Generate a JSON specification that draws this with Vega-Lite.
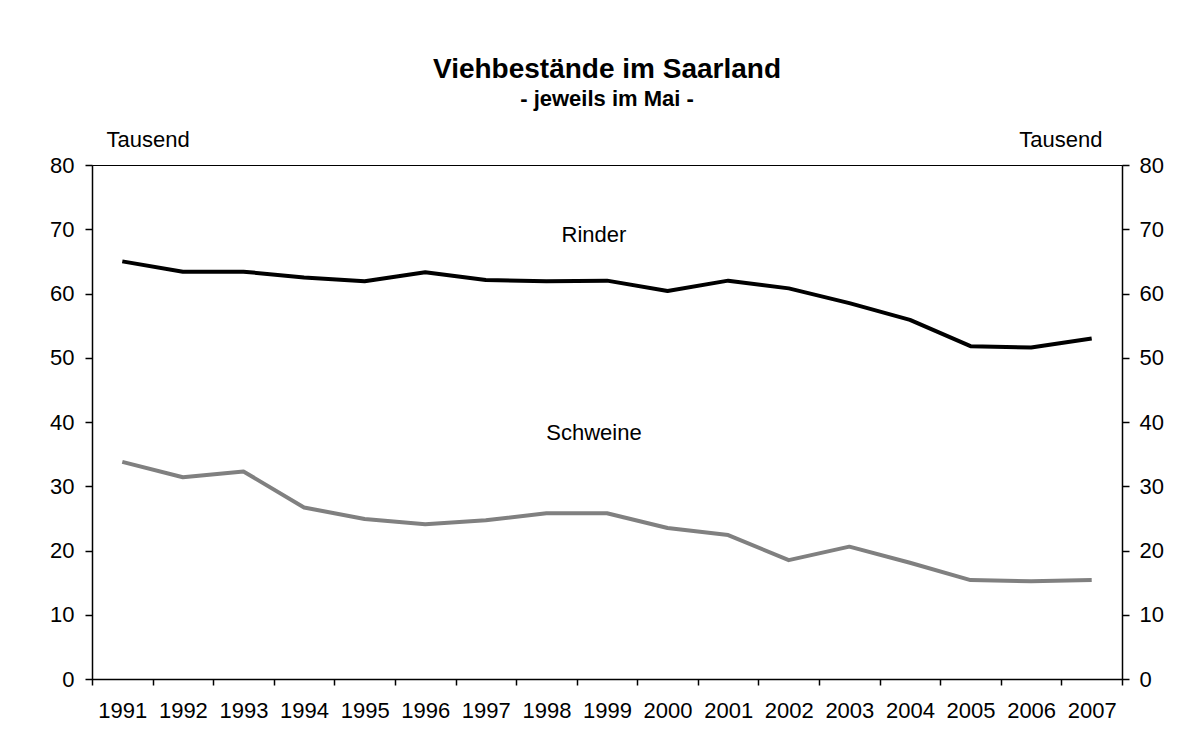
{
  "$schema": "https://vega.github.io/schema/vega-lite/v6.json",
  "width": 1030,
  "height": 514,
  "autosize": {"type": "none"},
  "padding": {"left": 92, "top": 165, "right": 72, "bottom": 74},
  "background": "white",
  "title": {
    "text": "Viehbestände im Saarland",
    "subtitle": "- jeweils im Mai -",
    "font": "Liberation Sans",
    "fontSize": 28,
    "fontWeight": "bold",
    "color": "black",
    "subtitleFont": "Liberation Sans",
    "subtitleFontSize": 22,
    "subtitleFontWeight": "bold",
    "subtitleColor": "black",
    "subtitlePadding": 5,
    "anchor": "middle",
    "offset": 18
  },
  "config": {
    "font": "Liberation Sans",
    "view": {"stroke": "black", "strokeWidth": 1},
    "axis": {
      "labelFont": "Liberation Sans",
      "labelFontSize": 22,
      "labelColor": "black",
      "tickColor": "black",
      "domainColor": "black",
      "domainWidth": 1.5,
      "tickWidth": 1.5,
      "grid": false,
      "titleFont": "Liberation Sans",
      "titleFontSize": 22,
      "titleFontWeight": "normal",
      "titleColor": "black"
    }
  },
  "datasets": {
    "bestand": [
      {"jahr": "1991", "art": "Rinder", "tausend": 65.0},
      {"jahr": "1992", "art": "Rinder", "tausend": 63.4},
      {"jahr": "1993", "art": "Rinder", "tausend": 63.4},
      {"jahr": "1994", "art": "Rinder", "tausend": 62.5},
      {"jahr": "1995", "art": "Rinder", "tausend": 61.9},
      {"jahr": "1996", "art": "Rinder", "tausend": 63.3},
      {"jahr": "1997", "art": "Rinder", "tausend": 62.1},
      {"jahr": "1998", "art": "Rinder", "tausend": 61.9},
      {"jahr": "1999", "art": "Rinder", "tausend": 62.0},
      {"jahr": "2000", "art": "Rinder", "tausend": 60.4},
      {"jahr": "2001", "art": "Rinder", "tausend": 62.0},
      {"jahr": "2002", "art": "Rinder", "tausend": 60.8},
      {"jahr": "2003", "art": "Rinder", "tausend": 58.5},
      {"jahr": "2004", "art": "Rinder", "tausend": 55.9},
      {"jahr": "2005", "art": "Rinder", "tausend": 51.8},
      {"jahr": "2006", "art": "Rinder", "tausend": 51.6},
      {"jahr": "2007", "art": "Rinder", "tausend": 53.0},
      {"jahr": "1991", "art": "Schweine", "tausend": 33.8},
      {"jahr": "1992", "art": "Schweine", "tausend": 31.4},
      {"jahr": "1993", "art": "Schweine", "tausend": 32.3},
      {"jahr": "1994", "art": "Schweine", "tausend": 26.7},
      {"jahr": "1995", "art": "Schweine", "tausend": 24.9},
      {"jahr": "1996", "art": "Schweine", "tausend": 24.1},
      {"jahr": "1997", "art": "Schweine", "tausend": 24.7},
      {"jahr": "1998", "art": "Schweine", "tausend": 25.8},
      {"jahr": "1999", "art": "Schweine", "tausend": 25.8},
      {"jahr": "2000", "art": "Schweine", "tausend": 23.5},
      {"jahr": "2001", "art": "Schweine", "tausend": 22.4},
      {"jahr": "2002", "art": "Schweine", "tausend": 18.5},
      {"jahr": "2003", "art": "Schweine", "tausend": 20.6},
      {"jahr": "2004", "art": "Schweine", "tausend": 18.1},
      {"jahr": "2005", "art": "Schweine", "tausend": 15.4},
      {"jahr": "2006", "art": "Schweine", "tausend": 15.2},
      {"jahr": "2007", "art": "Schweine", "tausend": 15.4}
    ],
    "beschriftung": [
      {"jahr": "1999", "art": "Rinder", "tausend": 68.0},
      {"jahr": "1999", "art": "Schweine", "tausend": 37.2}
    ]
  },
  "layer": [
    {
      "data": {"name": "bestand"},
      "mark": {"type": "line", "strokeWidth": 4, "strokeJoin": "round"},
      "encoding": {
        "x": {
          "field": "jahr",
          "type": "ordinal",
          "scale": {"paddingInner": 0, "paddingOuter": 0},
          "axis": {"title": null, "tickBand": "extent", "labelAngle": 0, "tickSize": 6, "labelPadding": 15}
        },
        "y": {
          "field": "tausend",
          "type": "quantitative",
          "scale": {"domain": [0, 80], "nice": false, "zero": true},
          "axis": {
            "orient": "left",
            "values": [0, 10, 20, 30, 40, 50, 60, 70, 80],
            "tickSize": 7,
            "labelPadding": 11,
            "title": "Tausend",
            "titleAngle": 0,
            "titleAlign": "left",
            "titleBaseline": "alphabetic",
            "titleX": 14,
            "titleY": -19
          }
        },
        "color": {
          "field": "art",
          "type": "nominal",
          "scale": {"domain": ["Rinder", "Schweine"], "range": ["#000000", "#808080"]},
          "legend": null
        }
      }
    },
    {
      "data": {"name": "beschriftung"},
      "mark": {"type": "text", "fontSize": 22, "color": "black", "align": "center", "baseline": "alphabetic", "dx": -13},
      "encoding": {
        "x": {
          "field": "jahr",
          "type": "ordinal",
          "axis": {"title": null, "tickBand": "extent", "labelAngle": 0, "tickSize": 6, "labelPadding": 15}
        },
        "y": {
          "field": "tausend",
          "type": "quantitative",
          "axis": {
            "orient": "right",
            "values": [0, 10, 20, 30, 40, 50, 60, 70, 80],
            "tickSize": 7,
            "labelPadding": 10,
            "title": "Tausend",
            "titleAngle": 0,
            "titleAlign": "right",
            "titleBaseline": "alphabetic",
            "titleX": -20,
            "titleY": -19
          }
        },
        "text": {"field": "art"}
      }
    }
  ],
  "resolve": {"axis": {"y": "independent"}}
}
